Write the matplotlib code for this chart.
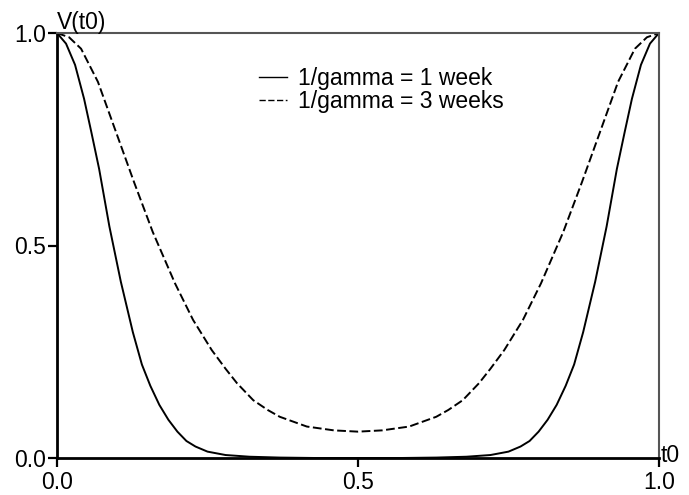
import matplotlib
matplotlib.use("Agg")
import matplotlib.pyplot as plt

plt.rcParams['font.family'] = ['Liberation Sans', 'DejaVu Sans']

# values (curves are symmetric about t0 = 0.5)
t_week1 = [0.000, 0.015, 0.030, 0.045, 0.057, 0.070, 0.087, 0.106, 0.126,
           0.141, 0.155, 0.170, 0.185, 0.200, 0.215, 0.230, 0.250, 0.280,
           0.320, 0.370, 0.430, 0.500,
           0.570, 0.630, 0.680, 0.720, 0.750, 0.770, 0.785, 0.800, 0.815,
           0.830, 0.845, 0.859, 0.874, 0.894, 0.913, 0.930, 0.943, 0.955,
           0.970, 0.985, 1.000]
v_week1 = [1.000, 0.975, 0.925, 0.845, 0.767, 0.680, 0.545, 0.415, 0.296,
           0.220, 0.170, 0.125, 0.090, 0.062, 0.040, 0.027, 0.015, 0.007,
           0.003, 0.001, 0.000, 0.000,
           0.000, 0.001, 0.003, 0.007, 0.015, 0.027, 0.040, 0.062, 0.090,
           0.125, 0.170, 0.220, 0.296, 0.415, 0.545, 0.680, 0.767, 0.845,
           0.925, 0.975, 1.000]

t_week3 = [0.000, 0.020, 0.040, 0.068, 0.098, 0.128, 0.159, 0.196, 0.226,
           0.257, 0.280, 0.299, 0.326, 0.350, 0.370, 0.415, 0.460, 0.500,
           0.540, 0.585, 0.630, 0.650, 0.674, 0.701, 0.720, 0.743, 0.774,
           0.804, 0.841, 0.872, 0.902, 0.932, 0.960, 0.980, 1.000]
v_week3 = [1.000, 0.990, 0.963, 0.885, 0.767, 0.649, 0.532, 0.411, 0.325,
           0.254, 0.210, 0.176, 0.136, 0.113, 0.097, 0.074, 0.065, 0.062,
           0.065, 0.074, 0.097, 0.113, 0.136, 0.176, 0.210, 0.254, 0.325,
           0.411, 0.532, 0.649, 0.767, 0.885, 0.963, 0.990, 1.000]

labels = ['1/gamma = 1 week', '1/gamma = 3 weeks']
xticks = [0.0, 0.5, 1.0]
yticks = [0.0, 0.5, 1.0]

fs = 16.5

fig = plt.figure(figsize=(6.89, 4.95), dpi=100)
ax = fig.add_axes([57 / 689, 37 / 495, 602 / 689, 425 / 495])

ax.plot(t_week1, v_week1, color='black', lw=1.4, label=labels[0])
ax.plot(t_week3, v_week3, color='black', lw=1.4, dashes=(4.5, 1.8),
        label=labels[1])

ax.set_xlim(0, 1)
ax.set_ylim(0, 1)
ax.set_xticks(xticks)
ax.set_yticks(yticks)
ax.set_xticklabels(['%.1f' % v for v in xticks])
ax.set_yticklabels(['%.1f' % v for v in yticks])
ax.tick_params(direction='out', length=6.5, width=1.6, labelsize=fs,
               color='black')
ax.tick_params(axis='x', pad=3)
ax.tick_params(axis='y', pad=1.5)

for side in ['left', 'bottom']:
    ax.spines[side].set_color('black')
    ax.spines[side].set_linewidth(2.0)
for side in ['top', 'right']:
    ax.spines[side].set_color('#555555')
    ax.spines[side].set_linewidth(1.5)

ax.text(0.0, 0.997, 'V(t0)', transform=ax.transAxes, fontsize=fs,
        ha='left', va='bottom')
ax.text(1.003, 0.005, 't0', transform=ax.transAxes, fontsize=fs,
        ha='left', va='center')

leg = ax.legend(loc='upper left', bbox_to_anchor=(0.335, 0.92),
                frameon=False, fontsize=fs, handlelength=1.25,
                handletextpad=0.45, labelspacing=0.0, borderpad=0,
                borderaxespad=0)
for h in leg.get_lines():
    h.set_linewidth(1.0)

fig.savefig('out.png', dpi=100)
